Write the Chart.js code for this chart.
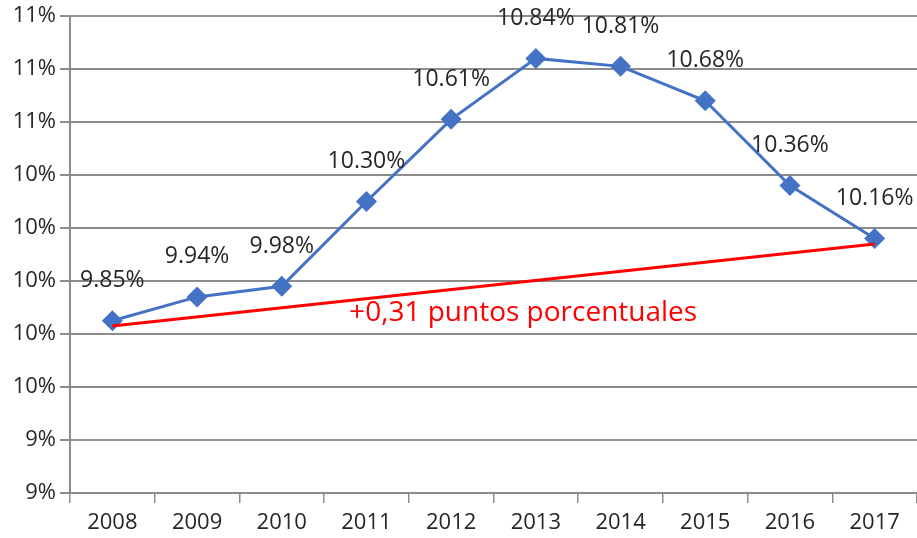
<!DOCTYPE html>
<html>
<head>
<meta charset="utf-8">
<script src="https://cdn.jsdelivr.net/npm/chart.js@4"></script>
<style>
html,body{margin:0;padding:0;background:#fff;}
canvas{display:block;}
</style>
</head>
<body>
<canvas id="c" width="917" height="538"></canvas>
<script>
const years = ['2008','2009','2010','2011','2012','2013','2014','2015','2016','2017'];
const rates = [9.85, 9.94, 9.98, 10.30, 10.61, 10.84, 10.81, 10.68, 10.36, 10.16];
const rateLabels = ['9.85%','9.94%','9.98%','10.30%','10.61%','10.84%','10.81%','10.68%','10.36%','10.16%'];
const trend = [9.83, null, null, null, null, null, null, null, null, 10.14];
const trendText = '+0,31 puntos porcentuales';
const trendTextPos = {x: 4.85, y: 9.88};
const yMin = 9.2, yMax = 11.0, yStep = 0.2;

const FONT = '"Open Sans", sans-serif';

const labelsPlugin = {
  id: 'labelsPlugin',
  afterDatasetsDraw(chart) {
    const ctx = chart.ctx;
    const meta = chart.getDatasetMeta(1);
    ctx.save();
    ctx.font = '23px ' + FONT;
    ctx.fillStyle = '#262626';
    ctx.textAlign = 'center';
    ctx.textBaseline = 'middle';
    meta.data.forEach((pt, i) => {
      ctx.fillText(rateLabels[i], pt.x, pt.y - 40);
    });
    const xs = chart.scales.x, ys = chart.scales.y;
    ctx.font = '28px ' + FONT;
    ctx.fillStyle = '#ff0000';
    ctx.fillText(trendText, xs.getPixelForValue(trendTextPos.x), ys.getPixelForValue(trendTextPos.y));
    ctx.restore();
  }
};

new Chart(document.getElementById('c'), {
  type: 'line',
  data: {
    labels: years,
    datasets: [
      {
        data: trend,
        borderColor: '#ff0000',
        borderWidth: 3,
        pointRadius: 0,
        spanGaps: true,
        tension: 0,
        clip: false
      },
      {
        data: rates,
        borderColor: '#4472C4',
        backgroundColor: '#4472C4',
        borderWidth: 3,
        pointStyle: 'rectRot',
        pointRadius: 10.5,
        pointHoverRadius: 10.5,
        pointBorderWidth: 0,
        tension: 0,
        clip: false
      }
    ]
  },
  options: {
    responsive: false,
    animation: false,
    layout: {autoPadding: false, padding: {top: 16, right: -2, left: 0, bottom: 0}},
    plugins: {legend: {display: false}, tooltip: {enabled: false}},
    scales: {
      x: {
        offset: true,
        grid: {offset: true, drawOnChartArea: false, drawTicks: true, tickLength: 10, color: '#8c8c8c', lineWidth: 1.5},
        border: {color: '#8c8c8c', width: 2},
        ticks: {color: '#262626', font: {family: FONT, size: 22}, padding: 7, maxRotation: 0},
        afterFit(s) { s.height = 45; s.paddingLeft = 0; s.paddingRight = 0; }
      },
      y: {
        min: yMin, max: yMax,
        grid: {color: '#8c8c8c', lineWidth: 2, tickLength: 10},
        border: {color: '#8c8c8c', width: 2},
        ticks: {
          stepSize: yStep,
          color: '#262626',
          font: {family: FONT, size: 22},
          padding: 4,
          callback: v => Math.round(v) + '%'
        },
        afterFit(s) { s.width = 70; s.paddingTop = 0; s.paddingBottom = 0; }
      }
    }
  },
  plugins: [labelsPlugin]
});
</script>
</body>
</html>
